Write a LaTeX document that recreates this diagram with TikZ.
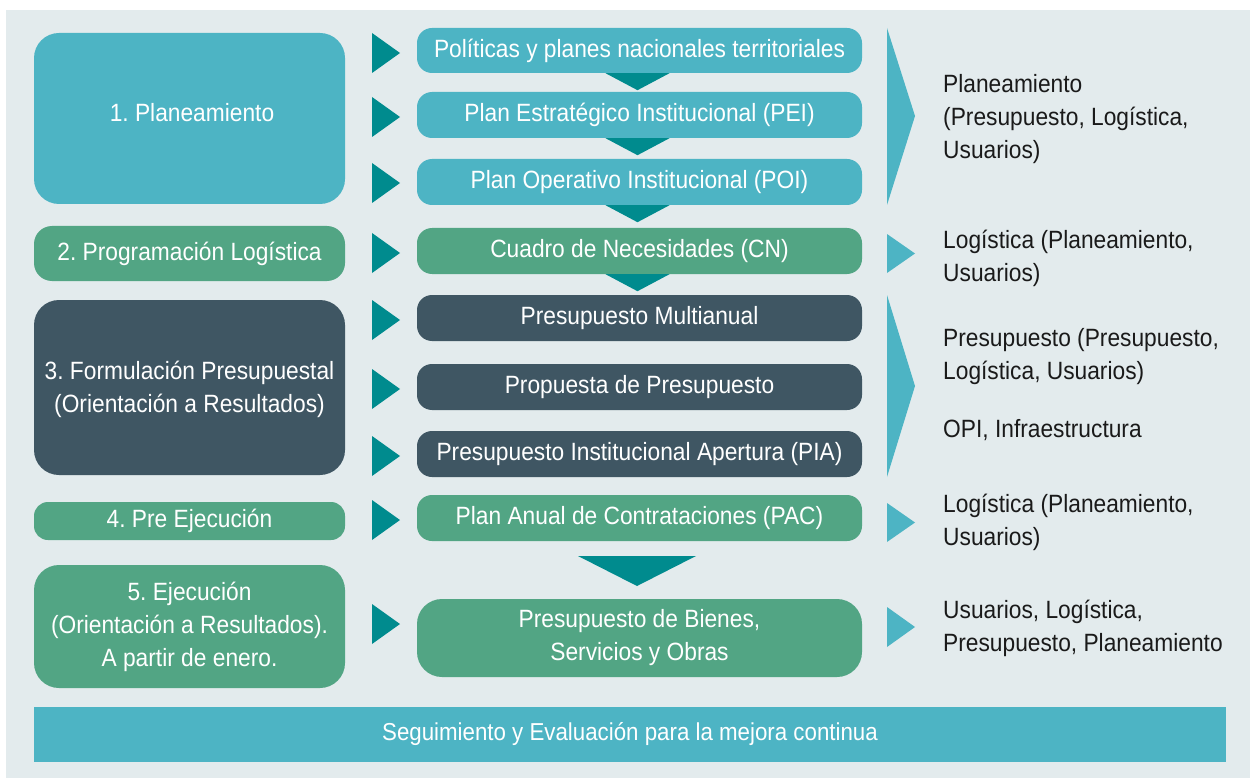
\documentclass[tikz,border=0pt]{standalone}
\usepackage{fontspec}
\setmainfont[FakeStretch=0.91]{Liberation Sans}
\usetikzlibrary{calc}
\frenchspacing
\definecolor{bgc}{HTML}{E3EBED}
\definecolor{cblue}{HTML}{4DB4C4}
\definecolor{cgreen}{HTML}{52A584}
\definecolor{cdark}{HTML}{3F5663}
\definecolor{cteal}{HTML}{008B8E}
\definecolor{ctext}{HTML}{1A1A1A}
\tikzset{
  box/.style={inner sep=0pt, text=white, align=center, font=\fontsize{25}{33}\selectfont},
  lbox/.style={box, minimum width=311pt, rounded corners=25pt},
  mbox/.style={box, minimum width=445pt, minimum height=46pt, rounded corners=15pt},
  rtext/.style={anchor=west, inner sep=0pt, align=left, text=ctext, font=\fontsize{25}{33}\selectfont},
  tealtri/.style={fill=cteal},
  bluetri/.style={fill=cblue}
}
\begin{document}
\begin{tikzpicture}[x=1pt,y=-1pt]
\frenchspacing
\useasboundingbox (0,0) rectangle (1250,778);
\fill[bgc] (6,10) rectangle (1250,778);
% left boxes
\node[lbox, fill=cblue, minimum height=171pt] (p1) at (189.5,118.5) {};
\node[box] (p1t) at (192,113) {1. Planeamiento};
\node[lbox, fill=cgreen, minimum height=55pt, rounded corners=18pt] (p2) at (189.5,253.5) {2. Programación Logística};
\node[lbox, fill=cdark, minimum height=175pt] (p3) at (189.5,387.5) {};
\node[box] (p3t) at (189.5,389) {3. Formulación Presupuestal\\(Orientación a Resultados)};
\node[lbox, fill=cgreen, minimum height=38pt, rounded corners=14pt] (p4) at (189.5,521) {4. Pre Ejecución};
\node[lbox, fill=cgreen, minimum height=123pt] (p5) at (189.5,626.5) {5. Ejecución\\(Orientación a Resultados).\\A partir de enero.};
% middle boxes
\node[mbox, fill=cblue, minimum height=45pt] (m1) at (639.5,50.5) {Políticas y planes nacionales territoriales};
\node[mbox, fill=cblue] (m2) at (639.5,115) {Plan Estratégico Institucional (PEI)};
\node[mbox, fill=cblue] (m3) at (639.5,182) {Plan Operativo Institucional (POI)};
\node[mbox, fill=cgreen] (m4) at (639.5,251) {Cuadro de Necesidades (CN)};
\node[mbox, fill=cdark] (m5) at (639.5,318) {Presupuesto Multianual};
\node[mbox, fill=cdark] (m6) at (639.5,387) {Propuesta de Presupuesto};
\node[mbox, fill=cdark] (m7) at (639.5,454) {Presupuesto Institucional Apertura (PIA)};
\node[mbox, fill=cgreen] (m8) at (639.5,518) {Plan Anual de Contrataciones (PAC)};
\node[mbox, fill=cgreen, minimum height=78pt, rounded corners=25pt] (m9) at (639.5,638) {Presupuesto de Bienes,\\Servicios y Obras};
% small down triangles
\foreach \b in {m1,m2,m3,m4}{
  \fill[tealtri] ($(\b.south)+(-34,0)$) -- ($(\b.south)+(30,0)$) -- ($(\b.south)+(-2,17)$) -- cycle;
}
% big down triangle
\fill[tealtri] (578,556) -- (696,556) -- (637,586) -- cycle;
% left triangles
\foreach \y in {53,117,183,253,320,389,456,520,624}{
  \fill[tealtri] (372,\y-20) -- (400,\y) -- (372,\y+20) -- cycle;
}
% right chevrons
\fill[bluetri] (887,28) -- (915,116) -- (887,205) -- cycle;
\fill[bluetri] (887,295) -- (915,386) -- (887,477) -- cycle;
\fill[bluetri] (887,234) -- (915,253.5) -- (887,273) -- cycle;
\fill[bluetri] (887,503) -- (915,522.5) -- (887,542) -- cycle;
\fill[bluetri] (887,607) -- (915,627) -- (887,647) -- cycle;
% right texts
\node[rtext] (r1) at (943,119) {Planeamiento\\(Presupuesto, Logística,\\Usuarios)};
\node[rtext] (r2) at (943,258) {Logística (Planeamiento,\\Usuarios)};
\node[rtext] (r3) at (943,357) {Presupuesto (Presupuesto,\\Logística, Usuarios)};
\node[rtext] (r4) at (943,430) {OPI, Infraestructura};
\node[rtext] (r5) at (943,522) {Logística (Planeamiento,\\Usuarios)};
\node[rtext] (r6) at (943,628) {Usuarios, Logística,\\Presupuesto, Planeamiento};
% bottom bar
\node[box, fill=cblue, minimum width=1192pt, minimum height=55pt] (bar) at (630,734.5) {\fontsize{24.5}{30}\selectfont Seguimiento y Evaluación para la mejora continua};
\end{tikzpicture}
\end{document}
